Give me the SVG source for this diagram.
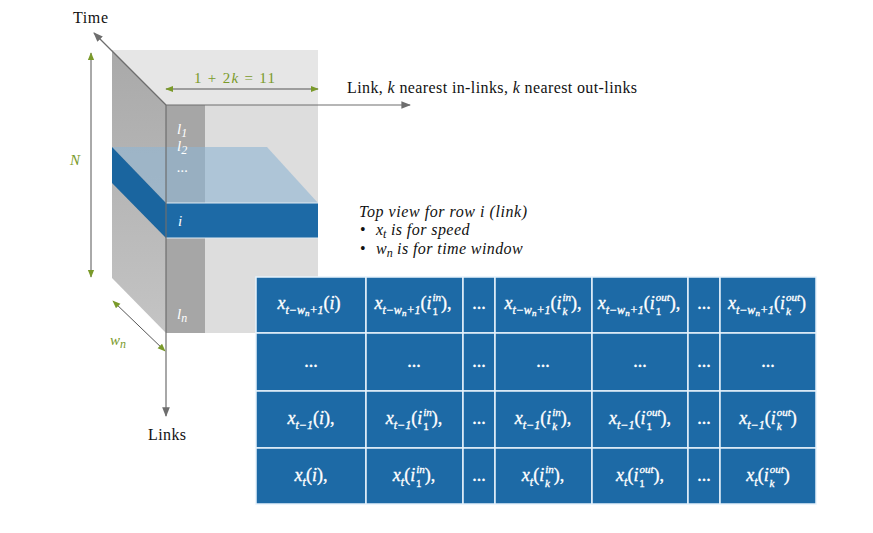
<svg xmlns="http://www.w3.org/2000/svg" width="873" height="533" viewBox="0 0 873 533">
<style>
.lbl{font-family:"Liberation Serif",serif;font-size:16px;fill:#111}
.it{font-style:italic}
.grn{font-family:"Liberation Serif",serif;font-style:italic;font-size:15px;fill:#7a9a2a}
.m{font-family:"Liberation Serif",serif;font-style:italic;font-size:18px;fill:#fff;stroke:#fff;stroke-width:0.35;text-anchor:middle}
.s{font-size:12px}
.p{font-size:11px}
.ss{font-size:9px}
.n{font-style:normal}
.cw{font-family:"Liberation Serif",serif;font-style:italic;font-size:15px;fill:#fff}
.ax{stroke:#6e6e6e;stroke-width:1.2;fill:none}
.dim{stroke:#555;stroke-width:1;fill:none}
.cell{fill:#1d6aa6;stroke:#e6f2fb;stroke-width:1.5}
</style>
<defs>
<marker id="ga" viewBox="0 0 10 10" refX="9" refY="5" markerWidth="8" markerHeight="8" orient="auto-start-reverse"><path d="M0,1 L10,5 L0,9 z" fill="#6e6e6e"/></marker>
<marker id="gr" viewBox="0 0 10 10" refX="9" refY="5" markerWidth="8" markerHeight="8" orient="auto-start-reverse"><path d="M0,1 L10,5 L0,9 z" fill="#7a9a2a"/></marker>
<linearGradient id="lf" x1="0" y1="0" x2="0" y2="1"><stop offset="0" stop-color="#a9a9a9"/><stop offset="1" stop-color="#c4c4c4"/></linearGradient>
</defs>
<g id="cube">
<polygon points="112,50 318,50 318,105 166,105" fill="#e6e6e6"/>
<polygon points="112,50 166,105 166,333 112,278" fill="url(#lf)"/>
<rect x="205" y="105" width="113" height="228" fill="#dddddd"/>
<rect x="166" y="105" width="39" height="228" fill="#a6a6a6"/>
<polygon points="112,147 267,147 318,203 166,203" fill="#8fb6d3" fill-opacity="0.6"/>
<polygon points="112,147 166,203 166,238 112,183" fill="#1a659f"/>
<rect x="166" y="203" width="152" height="35" fill="#1d6aa6"/>
<line x1="166" y1="203" x2="318" y2="203" stroke="#dfeaf3" stroke-width="1"/>
<line x1="166" y1="238" x2="318" y2="238" stroke="#dfeaf3" stroke-width="1"/>
<text class="cw" x="177" y="134">l<tspan class="s" dy="3">1</tspan></text>
<text class="cw" x="177" y="151">l<tspan class="s" dy="3">2</tspan></text>
<text class="cw n" x="177" y="172">...</text>
<text class="cw" x="178" y="226">i</text>
<text class="cw" x="177" y="319">l<tspan class="s" dy="3">n</tspan></text>
</g>
<g id="connectors">
<line class="ax" x1="166" y1="105" x2="94" y2="33" marker-end="url(#ga)"/>
<line class="ax" x1="166" y1="105" x2="410" y2="105" marker-end="url(#ga)"/>
<line class="ax" x1="166" y1="105" x2="166" y2="416" marker-end="url(#ga)"/>
<line class="dim" x1="91" y1="53" x2="91" y2="277" marker-start="url(#gr)" marker-end="url(#gr)"/>
<line class="dim" x1="166" y1="89" x2="318" y2="89" marker-start="url(#gr)" marker-end="url(#gr)"/>
<line class="dim" x1="113" y1="301" x2="165" y2="351" marker-start="url(#gr)" marker-end="url(#gr)"/>
</g>
<g id="labels">
<text class="lbl" x="73" y="23" textLength="35">Time</text>
<text class="lbl" x="347" y="93" textLength="290">Link, <tspan class="it">k</tspan> nearest in-links, <tspan class="it">k</tspan> nearest out-links</text>
<text class="lbl" x="148" y="440" textLength="38">Links</text>
<text class="grn" x="70" y="165">N</text>
<text class="grn n" x="194" y="83" textLength="81">1 + 2<tspan class="it">k</tspan> = 11</text>
<text class="grn" x="110" y="345">w<tspan class="s" dy="3">n</tspan></text>
</g>
<g id="topview">
<text class="lbl it" x="359" y="217" textLength="168">Top view for row i (link)</text>
<text class="lbl" x="360" y="235">•</text>
<text class="lbl it" x="376" y="235">x<tspan class="s" dy="3">t</tspan><tspan dy="-3" textLength="83"> is for speed</tspan></text>
<text class="lbl" x="360" y="254">•</text>
<text class="lbl it" x="376" y="254">w<tspan class="s" dy="3">n</tspan><tspan dy="-3" textLength="130"> is for time window</tspan></text>
</g>
<g id="table">
<rect class="cell" x="256" y="277" width="110" height="56"/>
<rect class="cell" x="366" y="277" width="97" height="56"/>
<rect class="cell" x="463" y="277" width="32" height="56"/>
<rect class="cell" x="495" y="277" width="97" height="56"/>
<rect class="cell" x="592" y="277" width="96" height="56"/>
<rect class="cell" x="688" y="277" width="32" height="56"/>
<rect class="cell" x="720" y="277" width="96" height="56"/>
<rect class="cell" x="256" y="333" width="110" height="58"/>
<rect class="cell" x="366" y="333" width="97" height="58"/>
<rect class="cell" x="463" y="333" width="32" height="58"/>
<rect class="cell" x="495" y="333" width="97" height="58"/>
<rect class="cell" x="592" y="333" width="96" height="58"/>
<rect class="cell" x="688" y="333" width="32" height="58"/>
<rect class="cell" x="720" y="333" width="96" height="58"/>
<rect class="cell" x="256" y="391" width="110" height="57"/>
<rect class="cell" x="366" y="391" width="97" height="57"/>
<rect class="cell" x="463" y="391" width="32" height="57"/>
<rect class="cell" x="495" y="391" width="97" height="57"/>
<rect class="cell" x="592" y="391" width="96" height="57"/>
<rect class="cell" x="688" y="391" width="32" height="57"/>
<rect class="cell" x="720" y="391" width="96" height="57"/>
<rect class="cell" x="256" y="448" width="110" height="56"/>
<rect class="cell" x="366" y="448" width="97" height="56"/>
<rect class="cell" x="463" y="448" width="32" height="56"/>
<rect class="cell" x="495" y="448" width="97" height="56"/>
<rect class="cell" x="592" y="448" width="96" height="56"/>
<rect class="cell" x="688" y="448" width="32" height="56"/>
<rect class="cell" x="720" y="448" width="96" height="56"/>

<text class="m" x="309" y="309">x<tspan class="s" dy="5">t−w</tspan><tspan class="ss" dy="2">n</tspan><tspan class="s" dy="-2">+1</tspan><tspan class="n" dy="-5">(</tspan>i<tspan class="n">)</tspan></text>
<text class="m" x="413" y="309">x<tspan class="s" dy="5">t−w</tspan><tspan class="ss" dy="2">n</tspan><tspan class="s" dy="-2">+1</tspan><tspan class="n" dy="-5">(</tspan>i<tspan class="p" dx="1" dy="-8">in</tspan><tspan class="p n" dx="-8.6" dy="14">1</tspan><tspan class="n" dx="3.1" dy="-6">),</tspan></text>
<text class="m n" x="479" y="309">...</text>
<text class="m" x="543" y="309">x<tspan class="s" dy="5">t−w</tspan><tspan class="ss" dy="2">n</tspan><tspan class="s" dy="-2">+1</tspan><tspan class="n" dy="-5">(</tspan>i<tspan class="p" dx="1" dy="-8">in</tspan><tspan class="p" dx="-8.6" dy="14">k</tspan><tspan class="n" dx="3.7" dy="-6">),</tspan></text>
<text class="m" x="639" y="309">x<tspan class="s" dy="5">t−w</tspan><tspan class="ss" dy="2">n</tspan><tspan class="s" dy="-2">+1</tspan><tspan class="n" dy="-5">(</tspan>i<tspan class="p" dx="1" dy="-8">out</tspan><tspan class="p n" dx="-14.1" dy="14">1</tspan><tspan class="n" dx="8.6" dy="-6">),</tspan></text>
<text class="m n" x="704" y="309">...</text>
<text class="m" x="767" y="309">x<tspan class="s" dy="5">t−w</tspan><tspan class="ss" dy="2">n</tspan><tspan class="s" dy="-2">+1</tspan><tspan class="n" dy="-5">(</tspan>i<tspan class="p" dx="1" dy="-8">out</tspan><tspan class="p" dx="-14.1" dy="14">k</tspan><tspan class="n" dx="9.2" dy="-6">)</tspan></text>

<text class="m n" x="311" y="367">...</text>
<text class="m n" x="414" y="367">...</text>
<text class="m n" x="479" y="367">...</text>
<text class="m n" x="543" y="367">...</text>
<text class="m n" x="640" y="367">...</text>
<text class="m n" x="704" y="367">...</text>
<text class="m n" x="768" y="367">...</text>

<text class="m" x="311" y="424">x<tspan class="s" dy="5">t−1</tspan><tspan class="n" dy="-5">(</tspan>i<tspan class="n">),</tspan></text>
<text class="m" x="414" y="424">x<tspan class="s" dy="5">t−1</tspan><tspan class="n" dy="-5">(</tspan>i<tspan class="p" dx="1" dy="-8">in</tspan><tspan class="p n" dx="-8.6" dy="14">1</tspan><tspan class="n" dx="3.1" dy="-6">),</tspan></text>
<text class="m n" x="479" y="424">...</text>
<text class="m" x="543" y="424">x<tspan class="s" dy="5">t−1</tspan><tspan class="n" dy="-5">(</tspan>i<tspan class="p" dx="1" dy="-8">in</tspan><tspan class="p" dx="-8.6" dy="14">k</tspan><tspan class="n" dx="3.7" dy="-6">),</tspan></text>
<text class="m" x="640" y="424">x<tspan class="s" dy="5">t−1</tspan><tspan class="n" dy="-5">(</tspan>i<tspan class="p" dx="1" dy="-8">out</tspan><tspan class="p n" dx="-14.1" dy="14">1</tspan><tspan class="n" dx="8.6" dy="-6">),</tspan></text>
<text class="m n" x="704" y="424">...</text>
<text class="m" x="768" y="424">x<tspan class="s" dy="5">t−1</tspan><tspan class="n" dy="-5">(</tspan>i<tspan class="p" dx="1" dy="-8">out</tspan><tspan class="p" dx="-14.1" dy="14">k</tspan><tspan class="n" dx="9.2" dy="-6">)</tspan></text>

<text class="m" x="311" y="481">x<tspan class="s" dy="5">t</tspan><tspan class="n" dy="-5">(</tspan>i<tspan class="n">),</tspan></text>
<text class="m" x="414" y="481">x<tspan class="s" dy="5">t</tspan><tspan class="n" dy="-5">(</tspan>i<tspan class="p" dx="1" dy="-8">in</tspan><tspan class="p n" dx="-8.6" dy="14">1</tspan><tspan class="n" dx="3.1" dy="-6">),</tspan></text>
<text class="m n" x="479" y="481">...</text>
<text class="m" x="543" y="481">x<tspan class="s" dy="5">t</tspan><tspan class="n" dy="-5">(</tspan>i<tspan class="p" dx="1" dy="-8">in</tspan><tspan class="p" dx="-8.6" dy="14">k</tspan><tspan class="n" dx="3.7" dy="-6">),</tspan></text>
<text class="m" x="640" y="481">x<tspan class="s" dy="5">t</tspan><tspan class="n" dy="-5">(</tspan>i<tspan class="p" dx="1" dy="-8">out</tspan><tspan class="p n" dx="-14.1" dy="14">1</tspan><tspan class="n" dx="8.6" dy="-6">),</tspan></text>
<text class="m n" x="704" y="481">...</text>
<text class="m" x="768" y="481">x<tspan class="s" dy="5">t</tspan><tspan class="n" dy="-5">(</tspan>i<tspan class="p" dx="1" dy="-8">out</tspan><tspan class="p" dx="-14.1" dy="14">k</tspan><tspan class="n" dx="9.2" dy="-6">)</tspan></text>
</g>
</svg>
